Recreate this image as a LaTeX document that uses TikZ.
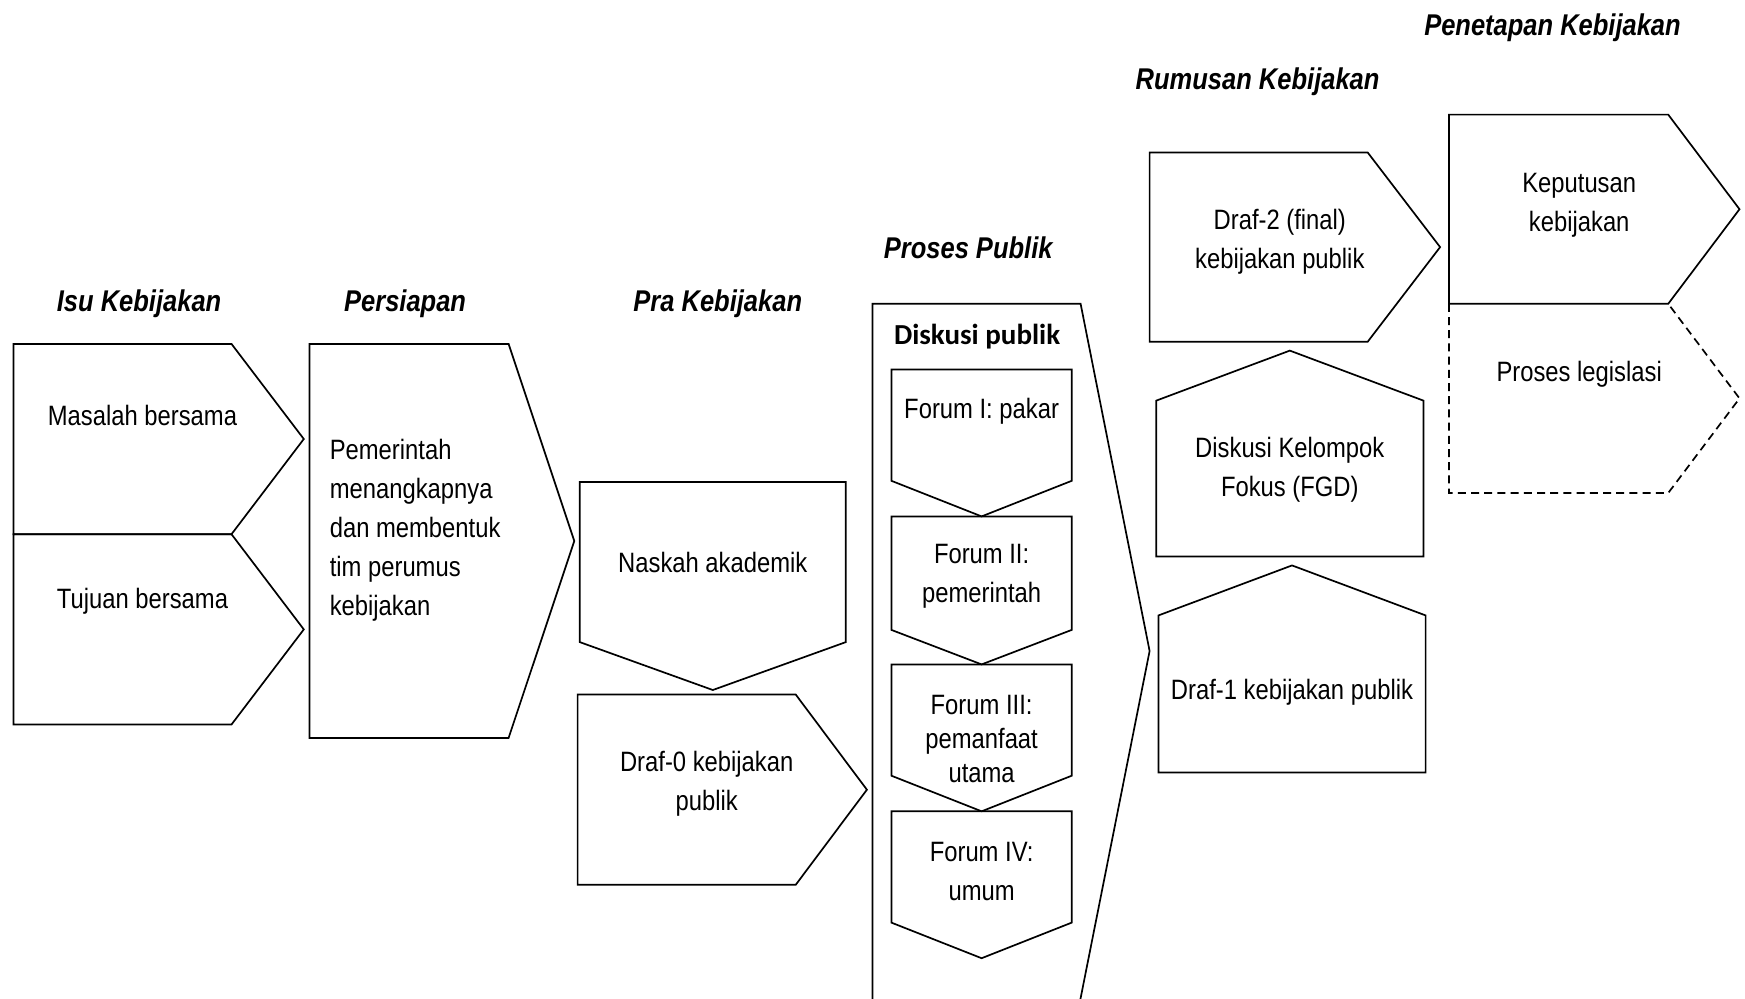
\documentclass[tikz,border=0pt]{standalone}
\usepackage{fontspec}
\setmainfont{Liberation Sans}[FakeStretch=0.85]
\newfontfamily\calibri{Carlito}
\begin{document}
\begin{tikzpicture}[x=0.5pt,y=-0.5pt,
  shp/.style={draw=black,line width=0.85pt,line join=miter},
  dsh/.style={draw=black,line width=0.85pt,dash pattern=on 4pt off 2.6pt},
  lbl/.style={inner sep=0pt,yshift=-1.5pt,font=\fontsize{14}{19.5}\selectfont,align=center},
  lbltight/.style={inner sep=0pt,yshift=-1.5pt,font=\fontsize{14}{17}\selectfont,align=center},
  ttl/.style={inner sep=0pt,yshift=-1.5pt,font=\fontsize{15}{18}\selectfont\bfseries\itshape}]
\useasboundingbox[fill=white] (0,0) rectangle (1745,998);

% titles
\node[ttl] (t1) at (139.1,300.5) {Isu Kebijakan};
\node[ttl] (t2) at (405.1,300.5) {Persiapan};
\node[ttl] (t3) at (717.8,300.5) {Pra Kebijakan};
\node[ttl] (t4) at (968.2,244.8) {Proses Publik};
\node[ttl] (t5) at (1257.6,79) {Rumusan Kebijakan};
\node[ttl] (t6) at (1552.5,24.5) {Penetapan Kebijakan};

% Isu Kebijakan
\draw[shp] (13.4,343.9) -- (231.5,343.9) -- (303.8,439) -- (231.5,534.2) -- (13.4,534.2) -- cycle;
\draw[shp] (13.4,534.2) -- (231.5,534.2) -- (303.8,629.4) -- (231.5,724.5) -- (13.4,724.5) -- cycle;
\node[lbl] (masalah) at (142.5,412.9) {Masalah bersama};
\node[lbl] (tujuan) at (142.5,598.7) {Tujuan bersama};

% Persiapan
\draw[shp] (309.4,343.9) -- (508.6,343.9) -- (574.3,541) -- (508.6,737.9) -- (309.4,737.9) -- cycle;
\node[lbl,align=left,anchor=west] (pemerintah) at (329.4,527.5) {Pemerintah\\menangkapnya\\dan membentuk\\tim perumus\\kebijakan};

% Pra Kebijakan
\draw[shp] (579.8,481.9) -- (845.8,481.9) -- (845.8,642.1) -- (712.8,690) -- (579.8,642.1) -- cycle;
\node[lbl] (naskah) at (712.8,559.8) {Naskah akademik};
\draw[shp] (577.6,694.5) -- (795.7,694.5) -- (866.9,789.7) -- (795.7,884.8) -- (577.6,884.8) -- cycle;
\node[lbl] (draf0) at (706.7,781.2) {Draf-0 kebijakan\\publik};

% Proses Publik
\draw[shp] (872.5,1010) -- (872.5,303.8) -- (1080.6,303.8) -- (1149.6,651) -- (1078.6,1008.2);
\node[inner sep=0pt,anchor=west,yshift=-1pt,font=\calibri\fontsize{14.5}{17}\selectfont\bfseries] (diskusi) at (893.6,335) {Diskusi publik};
\draw[shp] (891.4,369.5) -- (1071.7,369.5) -- (1071.7,480.8) -- (981.6,516.4) -- (891.4,480.8) -- cycle;
\draw[shp] (891.4,516.4) -- (1071.7,516.4) -- (1071.7,629.9) -- (981.6,664.4) -- (891.4,629.9) -- cycle;
\draw[shp] (891.4,664.4) -- (1071.7,664.4) -- (1071.7,775.7) -- (981.6,811.3) -- (891.4,775.7) -- cycle;
\draw[shp] (891.4,811.3) -- (1071.7,811.3) -- (1071.7,922.6) -- (981.6,958.2) -- (891.4,922.6) -- cycle;
\node[lbl] (f1) at (981.6,408.4) {Forum I: pakar};
\node[lbl] (f2) at (981.6,573.7) {Forum II:\\pemerintah};
\node[lbltight] (f3) at (981.6,736.4) {Forum III:\\pemanfaat\\utama};
\node[lbl] (f4) at (981.6,868.6) {Forum IV:\\umum};

% Rumusan Kebijakan
\draw[shp] (1149.6,152.5) -- (1367.7,152.5) -- (1440.1,247.1) -- (1367.7,341.7) -- (1149.6,341.7) -- cycle;
\node[lbl] (draf2) at (1279.8,239.2) {Draf-2 (final)\\kebijakan publik};
\draw[shp] (1156.3,556.5) -- (1156.3,400.6) -- (1289.8,350.6) -- (1423.4,400.6) -- (1423.4,556.5) -- cycle;
\node[lbl] (fgd) at (1289.8,466.8) {Diskusi Kelompok\\Fokus (FGD)};
\draw[shp] (1158.5,772.4) -- (1158.5,615.4) -- (1292,565.4) -- (1425.6,615.4) -- (1425.6,772.4) -- cycle;
\node[lbl] (draf1) at (1292,688.9) {Draf-1 kebijakan publik};

% Penetapan Kebijakan
\draw[dsh] (1449,303.8) -- (1449,493) -- (1668.2,493) -- (1739.5,398.4) -- (1668.2,303.8);
\draw[shp] (1449,114.6) -- (1668.2,114.6) -- (1739.5,209.2) -- (1668.2,303.8) -- (1449,303.8) -- cycle;
\node[lbl] (keputusan) at (1579.2,202) {Keputusan\\kebijakan};
\node[lbl] (legislasi) at (1579.2,371.7) {Proses legislasi};
\end{tikzpicture}
\end{document}
